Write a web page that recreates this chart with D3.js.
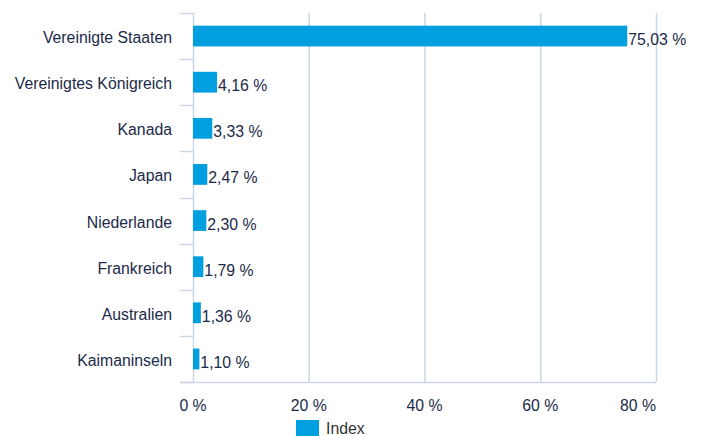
<!DOCTYPE html>
<html>
<head>
<meta charset="utf-8">
<script src="https://cdn.jsdelivr.net/npm/d3@7"></script>
<style>
  body { margin: 0; background: #fff; }
  svg { display: block; }
</style>
</head>
<body>
<svg id="chart" width="704" height="436"></svg>
<script>
const countries = [
  "Vereinigte Staaten",
  "Vereinigtes Königreich",
  "Kanada",
  "Japan",
  "Niederlande",
  "Frankreich",
  "Australien",
  "Kaimaninseln",
];
const values = [75.03, 4.16, 3.33, 2.47, 2.3, 1.79, 1.36, 1.1];
const xTicks = [0, 20, 40, 60, 80];
const seriesName = "Index";

const fontFamily = `"Liberation Sans", Arial, Helvetica, sans-serif`;
const textColor = "#1b2a4a";
const gridColor = "#ccd6e6";
const barColor = "#009fe0";
const fontSize = 15.8;

const margin = { top: 13, right: 48, bottom: 54, left: 193 };
const width = 704;
const height = 436;

const svg = d3.select("#chart").attr("font-family", fontFamily);

const x = d3
  .scaleLinear()
  .domain([0, 80])
  .range([margin.left, width - margin.right]);

const y = d3
  .scaleBand()
  .domain(countries)
  .range([margin.top, height - margin.bottom])
  .paddingInner(0.55)
  .paddingOuter(0.275);

const fmt = (v) => d3.format(".2f")(v).replace(".", ",") + " %";

// vertical grid lines
svg
  .append("g")
  .selectAll("line")
  .data(xTicks)
  .enter()
  .append("line")
  .attr("x1", (d) => x(d) + 0.5)
  .attr("x2", (d) => x(d) + 0.5)
  .attr("y1", margin.top)
  .attr("y2", height - margin.bottom)
  .attr("stroke", gridColor)
  .attr("stroke-width", 1.5);

// category axis: ticks at band boundaries
const bounds = d3.range(countries.length + 1).map(
  (i) => margin.top + (i * (height - margin.bottom - margin.top)) / countries.length
);
const axisG = svg.append("g").attr("stroke", gridColor).attr("stroke-width", 1.5);
axisG
  .selectAll("line.tick")
  .data(bounds)
  .enter()
  .append("line")
  .attr("x1", margin.left - 13)
  .attr("x2", margin.left)
  .attr("y1", (d) => Math.round(d) + 0.5)
  .attr("y2", (d) => Math.round(d) + 0.5);
axisG
  .append("line")
  .attr("x1", margin.left - 13)
  .attr("x2", width - margin.right)
  .attr("y1", height - margin.bottom + 0.5)
  .attr("y2", height - margin.bottom + 0.5);

// bars
svg
  .append("g")
  .selectAll("rect")
  .data(countries)
  .enter()
  .append("rect")
  .attr("x", x(0))
  .attr("y", (d) => y(d))
  .attr("width", (d, i) => x(values[i]) - x(0))
  .attr("height", y.bandwidth())
  .attr("fill", barColor);

// value labels
svg
  .append("g")
  .attr("fill", textColor)
  .attr("font-size", fontSize)
  .selectAll("text")
  .data(countries)
  .enter()
  .append("text")
  .attr("x", (d, i) => x(values[i]) + 1)
  .attr("y", (d) => y(d) + y.bandwidth() / 2 + 9)
  .text((d, i) => fmt(values[i]));

// category labels
svg
  .append("g")
  .attr("fill", textColor)
  .attr("font-size", fontSize)
  .attr("text-anchor", "end")
  .selectAll("text")
  .data(countries)
  .enter()
  .append("text")
  .attr("x", margin.left - 21)
  .attr("y", (d) => y(d) + y.bandwidth() / 2 + 7)
  .text((d) => d);

// x tick labels
svg
  .append("g")
  .attr("fill", textColor)
  .attr("font-size", fontSize)
  .selectAll("text")
  .data(xTicks)
  .enter()
  .append("text")
  .attr("x", (d) => x(d))
  .attr("y", 411)
  .attr("text-anchor", (d, i) => (i === xTicks.length - 1 ? "end" : "middle"))
  .text((d) => d + " %");

// legend
const legend = svg.append("g").attr("transform", "translate(296, 420)");
legend
  .append("rect")
  .attr("width", 23)
  .attr("height", 16)
  .attr("fill", barColor);
legend
  .append("text")
  .attr("x", 30)
  .attr("y", 14)
  .attr("font-size", fontSize)
  .attr("fill", "#333")
  .text(seriesName);
</script>
</body>
</html>
